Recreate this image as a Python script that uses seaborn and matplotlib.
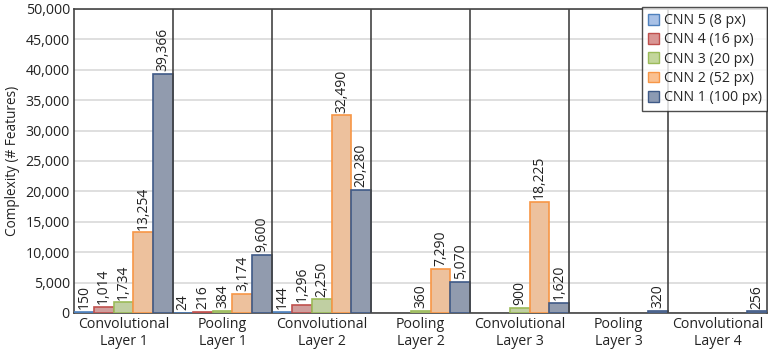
import matplotlib
matplotlib.use("Agg")
import matplotlib.pyplot as plt
import seaborn as sns
import pandas as pd

layers = ["Convolutional\nLayer 1", "Pooling\nLayer 1", "Convolutional\nLayer 2",
          "Pooling\nLayer 2", "Convolutional\nLayer 3", "Pooling\nLayer 3",
          "Convolutional\nLayer 4"]
series = ["CNN 5 (8 px)", "CNN 4 (16 px)", "CNN 3 (20 px)", "CNN 2 (52 px)", "CNN 1 (100 px)"]
cnn5 = [150, 24, 144, 0, 0, 0, 0]
cnn4 = [1014, 216, 1296, 0, 0, 0, 0]
cnn3 = [1734, 384, 2250, 360, 900, 0, 0]
cnn2 = [13254, 3174, 32490, 7290, 18225, 0, 0]
cnn1 = [39366, 9600, 20280, 5070, 1620, 320, 256]

fills = ["#a9c1e6", "#d99694", "#c3d69b", "#fac090", "#8c9ab3"]
edges = ["#4f81bd", "#c0504d", "#9bbb59", "#f79646", "#3f5a87"]

rows = []
for name, vals in zip(series, [cnn5, cnn4, cnn3, cnn2, cnn1]):
    for layer, v in zip(layers, vals):
        rows.append({"layer": layer, "model": name, "features": v})
df = pd.DataFrame(rows)

sns.set_theme(style="white")
plt.rcParams["font.family"] = ["Open Sans", "DejaVu Sans"]

fig = plt.figure(figsize=(7.68, 3.58), dpi=100)
ax = fig.add_axes([0.0964, 0.1257, 0.9026, 0.8493])

sns.barplot(data=df, x="layer", y="features", hue="model", order=layers,
            hue_order=series, palette=fills, width=1.0, gap=0, dodge=True,
            errorbar=None, ax=ax, zorder=3)

# outline each series; empty (zero) bars are not drawn
for cont, ec, vals in zip(ax.containers, edges, [cnn5, cnn4, cnn3, cnn2, cnn1]):
    for patch, v in zip(cont, vals):
        patch.set_edgecolor(ec)
        patch.set_linewidth(1.2)
        if v == 0:
            patch.set_visible(False)
    labels = [f"{v:,}" if v > 0 else "" for v in vals]
    ax.bar_label(cont, labels=labels, rotation=90, padding=2, fontsize=10,
                 color="#222222")

ax.set_ylim(0, 50000)
ax.set_xlim(-0.5, len(layers) - 0.5)
ax.set_yticks(range(0, 50001, 5000))
ax.yaxis.set_major_formatter(matplotlib.ticker.FuncFormatter(lambda v, p: f"{int(v):,}"))
ax.tick_params(axis="y", labelsize=10.2, length=0, pad=3, labelcolor="#222222")
ax.tick_params(axis="x", labelsize=10.2, length=0, pad=3, labelcolor="#222222")
for t in ax.get_xticklabels():
    t.set_linespacing(1.2)
ax.set_xlabel("")
ax.set_ylabel("Complexity (# Features)", fontsize=9.8, color="#222222", labelpad=4)

ax.yaxis.grid(True, color="#d9d9d9", linewidth=1.2, zorder=0)
ax.set_axisbelow(True)
for i in range(len(layers) - 1):
    ax.axvline(i + 0.5, color="#444444", linewidth=1.2, zorder=4)
for side in ["left", "bottom", "top", "right"]:
    ax.spines[side].set_color("#444444")
    ax.spines[side].set_linewidth(1.2)
    ax.spines[side].set_visible(True)

handles = [matplotlib.patches.Patch(facecolor=f, edgecolor=e, linewidth=1)
           for f, e in zip(fills, edges)]
leg = ax.legend(handles, series, loc="upper right", bbox_to_anchor=(1.0, 1.005),
                borderaxespad=0, fontsize=10.2, frameon=True, fancybox=False,
                handlelength=0.8, handleheight=0.8, handletextpad=0.3,
                labelspacing=0.3, borderpad=0.4)
leg.get_frame().set_edgecolor("#222222")
leg.get_frame().set_linewidth(1.0)
leg.set_zorder(10)

fig.savefig("out.png", dpi=100)
